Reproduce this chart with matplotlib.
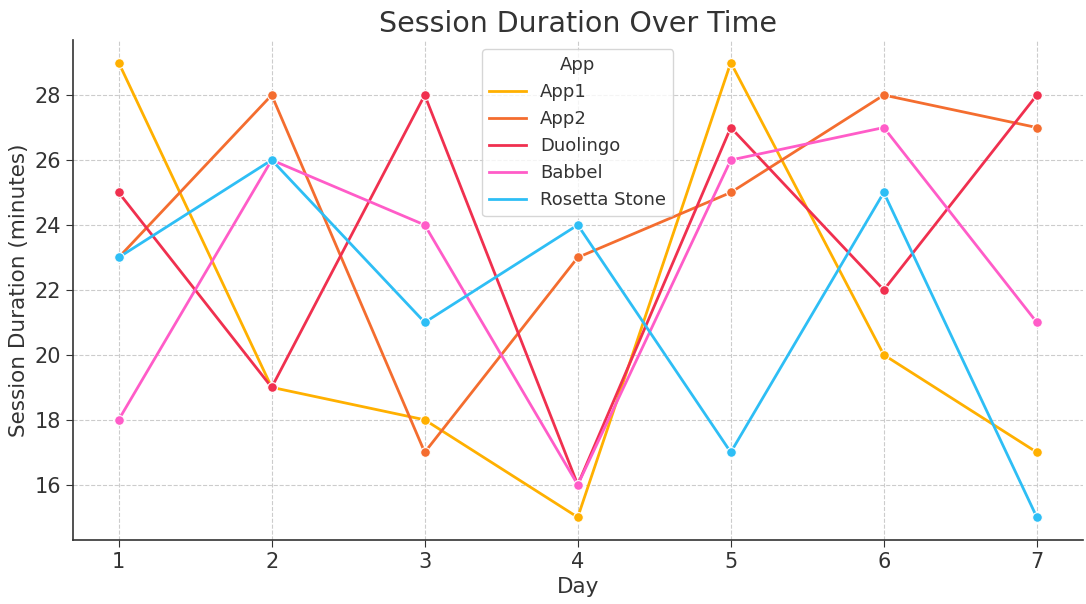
import matplotlib.pyplot as plt
import numpy as np

days = [1, 2, 3, 4, 5, 6, 7]
apps = ['App1', 'App2', 'Duolingo', 'Babbel', 'Rosetta Stone']
app1 = [29, 19, 18, 15, 29, 20, 17]
app2 = [23, 28, 17, 23, 25, 28, 27]
duolingo = [25, 19, 28, 16, 27, 22, 28]
babbel = [18, 26, 24, 16, 26, 27, 21]
rosetta = [23, 26, 21, 24, 17, 25, 15]
colors = ['#FFB000', '#F46D2F', '#F0304F', '#FF5CC8', '#2EBEF5']

fig, ax = plt.subplots(figsize=(10.86, 6.04), dpi=100)
fig.subplots_adjust(left=0.067, right=0.997, top=0.934, bottom=0.106)

for name, vals, c in zip(apps, [app1, app2, duolingo, babbel, rosetta], colors):
    ax.plot(days, vals, color=c, linewidth=2, marker='o', markersize=7,
            markeredgecolor='white', markeredgewidth=0.8, label=name)

ax.grid(True, linestyle='--', color='#cccccc', linewidth=0.8)
ax.set_axisbelow(True)
ax.spines['top'].set_visible(False)
ax.spines['right'].set_visible(False)
ax.spines['left'].set_color('#333333')
ax.spines['bottom'].set_color('#333333')
ax.spines['left'].set_linewidth(1.2)
ax.spines['bottom'].set_linewidth(1.2)
ax.tick_params(labelsize=15, colors='#333333', length=5)
ax.set_xticks(days)
ax.set_yticks(np.arange(16, 30, 2))

ax.set_title('Session Duration Over Time', fontsize=20.5, color='#333333')
ax.set_xlabel('Day', fontsize=15.5, color='#333333')
ax.set_ylabel('Session Duration (minutes)', fontsize=15.5, color='#333333')

leg = ax.legend(title='App', fontsize=13, title_fontsize=13, loc='upper center',
                bbox_to_anchor=(0.5, 1.0), frameon=True)
leg.get_frame().set_edgecolor('#cccccc')
for h in leg.legend_handles:
    h.set_marker('')
for t in leg.get_texts():
    t.set_color('#333333')
leg.get_title().set_color('#333333')

fig.savefig('out.png')
